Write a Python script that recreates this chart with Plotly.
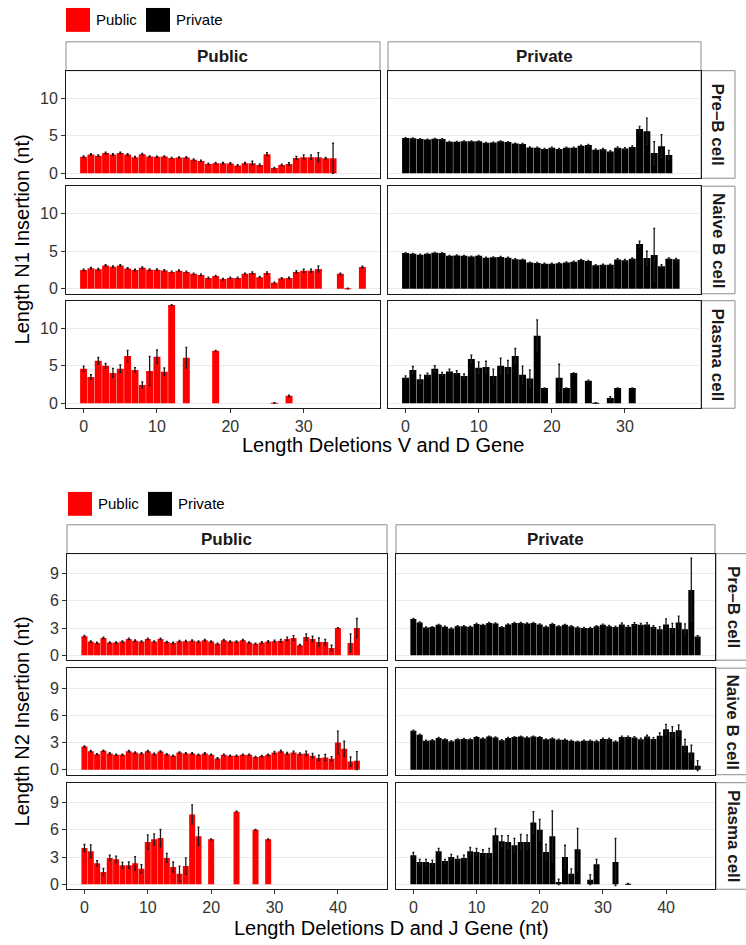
import plotly.graph_objects as go

W, H = 746, 945

# ---------------- N1 (V and D deletions) ----------------
n1_pub_preb_x = list(range(35))
n1_pub_preb_y = [2.2, 2.5, 2.35, 2.7, 2.5, 2.7, 2.5, 2.15, 2.55, 2.25, 2.2, 2.25, 2.05, 2.1, 2.1,
                 1.8, 1.65, 1.25, 1.35, 1.35, 1.3, 1.05, 1.35, 1.35, 1.1, 2.55, 0.7, 1.1, 1.25, 2.05,
                 2.15, 2.15, 2.15, 2.0, 2.0]
n1_pub_preb_e = [0.1, 0.1, 0.1, 0.1, 0.1, 0.1, 0.1, 0.1, 0.1, 0.08, 0.08, 0.08, 0.08, 0.08, 0.1,
                 0.1, 0.1, 0.1, 0.1, 0.1, 0.1, 0.1, 0.1, 0.25, 0.15, 0.2, 0.1, 0.1, 0.15, 0.2,
                 0.3, 0.3, 0.6, 0.1, 2.0]

n1_priv_preb_x = list(range(37))
n1_priv_preb_y = [4.7, 4.65, 4.55, 4.5, 4.6, 4.55, 4.2, 4.2, 4.25, 4.25, 4.25, 4.05, 4.1, 4.25, 4.15,
                  3.95, 3.9, 3.45, 3.4, 3.25, 3.4, 3.25, 3.4, 3.4, 3.65, 3.75, 3.15, 3.2, 2.9, 3.4,
                  3.3, 3.5, 5.9, 5.6, 2.7, 3.6, 2.45]
n1_priv_preb_e = [0.06, 0.06, 0.06, 0.06, 0.06, 0.06, 0.06, 0.06, 0.06, 0.06, 0.06, 0.06, 0.06, 0.06, 0.06,
                  0.07, 0.07, 0.07, 0.07, 0.07, 0.07, 0.07, 0.07, 0.08, 0.08, 0.1, 0.1, 0.1, 0.1, 0.12,
                  0.12, 0.15, 0.35, 1.75, 1.5, 1.55, 0.6]

n1_pub_naive_x = list(range(33)) + [35, 36, 38]
n1_pub_naive_y = [2.5, 2.75, 2.6, 3.1, 2.95, 3.1, 2.7, 2.5, 2.8, 2.55, 2.55, 2.45, 2.25, 2.4, 2.25,
                  2.0, 1.85, 1.45, 1.7, 1.3, 1.45, 1.45, 2.0, 2.1, 1.55, 2.1, 0.8, 1.4, 1.45, 2.25,
                  2.4, 2.4, 2.65, 2.0, 0.05, 2.9]
n1_pub_naive_e = [0.1, 0.1, 0.1, 0.1, 0.1, 0.1, 0.1, 0.1, 0.1, 0.1, 0.1, 0.1, 0.1, 0.1, 0.1,
                  0.1, 0.1, 0.1, 0.1, 0.1, 0.1, 0.1, 0.1, 0.15, 0.1, 0.15, 0.1, 0.1, 0.1, 0.15,
                  0.2, 0.2, 0.4, 0.1, 0.05, 0.1]

n1_priv_naive_x = list(range(38))
n1_priv_naive_y = [4.75, 4.65, 4.55, 4.65, 4.8, 4.75, 4.4, 4.45, 4.4, 4.3, 4.4, 4.15, 4.2, 4.25, 4.15,
                   3.95, 3.9, 3.5, 3.45, 3.35, 3.35, 3.4, 3.5, 3.6, 3.85, 3.7, 3.15, 3.2, 3.2, 3.9,
                   3.8, 4.0, 5.95, 4.1, 4.5, 3.0, 4.0, 3.95]
n1_priv_naive_e = [0.06, 0.06, 0.06, 0.06, 0.06, 0.06, 0.06, 0.06, 0.06, 0.06, 0.06, 0.06, 0.06, 0.06, 0.06,
                   0.06, 0.06, 0.06, 0.06, 0.06, 0.06, 0.07, 0.07, 0.07, 0.08, 0.08, 0.08, 0.08, 0.08, 0.1,
                   0.1, 0.1, 0.4, 0.9, 3.55, 0.2, 0.1, 0.1]

n1_pub_plasma_x = [0, 1, 2, 3, 4, 5, 6, 7, 8, 9, 10, 11, 12, 14, 18, 26, 28]
n1_pub_plasma_y = [4.6, 3.5, 5.65, 5.0, 4.05, 4.6, 6.3, 4.45, 2.45, 4.3, 6.2, 4.2, 13.1, 6.05, 7.0, 0.05, 1.0]
n1_pub_plasma_e = [0.35, 0.3, 0.45, 0.3, 0.6, 0.5, 0.75, 0.3, 0.4, 1.95, 0.9, 0.5, 0.05, 1.4, 0.05, 0.05, 0.1]

n1_priv_plasma_x = list(range(20)) + [21, 22, 23, 25, 26, 28, 29, 31]
n1_priv_plasma_y = [3.4, 4.45, 3.2, 3.8, 4.6, 3.9, 4.25, 4.05, 3.65, 5.9, 4.75, 4.85, 3.65, 5.0, 4.85,
                    6.3, 3.8, 3.3, 9.0, 2.05, 3.4, 2.05, 4.05, 3.0, 0.05, 0.7, 2.05, 2.05]
n1_priv_plasma_e = [0.25, 0.45, 0.55, 0.2, 0.4, 0.2, 0.3, 0.3, 0.25, 0.5, 0.75, 0.75, 0.9, 1.0, 0.85,
                    1.0, 1.15, 1.15, 2.1, 0.0, 1.8, 0.0, 0.0, 0.1, 0.05, 0.2, 0.0, 0.0]

# ---------------- N2 (D and J deletions) ----------------
n2_pub_preb_x = list(range(41)) + [42, 43]
n2_pub_preb_y = [2.1, 1.5, 1.35, 1.9, 1.4, 1.4, 1.5, 1.8, 1.6, 1.5, 1.8, 1.5, 1.8, 1.45, 1.35,
                 1.55, 1.55, 1.6, 1.5, 1.65, 1.5, 1.25, 1.65, 1.5, 1.5, 1.65, 1.4, 1.25, 1.4, 1.5,
                 1.55, 1.6, 1.8, 1.9, 1.1, 2.0, 1.8, 1.45, 1.45, 0.8, 3.0, 1.35, 3.0]
n2_pub_preb_e = [0.08, 0.08, 0.08, 0.08, 0.08, 0.08, 0.08, 0.08, 0.08, 0.08, 0.08, 0.08, 0.08, 0.08, 0.08,
                 0.08, 0.08, 0.08, 0.08, 0.08, 0.08, 0.08, 0.08, 0.08, 0.08, 0.08, 0.08, 0.08, 0.1, 0.1,
                 0.1, 0.15, 0.2, 0.25, 0.1, 0.35, 0.3, 0.45, 0.3, 0.3, 0.05, 1.0, 1.05]

n2_priv_preb_x = list(range(46))
n2_priv_preb_y = [4.0, 3.6, 3.05, 3.1, 3.35, 3.15, 2.95, 3.2, 3.2, 3.15, 3.45, 3.35, 3.55, 3.5, 3.1,
                  3.4, 3.55, 3.55, 3.5, 3.55, 3.4, 3.15, 3.45, 3.2, 3.35, 3.2, 3.05, 3.0, 3.0, 3.2,
                  3.35, 3.2, 3.1, 3.4, 3.15, 3.45, 3.35, 3.4, 3.1, 2.85, 3.4, 3.0, 3.6, 2.85, 7.2, 2.05]
n2_priv_preb_e = [0.06, 0.06, 0.06, 0.06, 0.06, 0.06, 0.06, 0.06, 0.06, 0.06, 0.06, 0.06, 0.06, 0.06, 0.06,
                  0.06, 0.06, 0.06, 0.06, 0.06, 0.06, 0.06, 0.06, 0.06, 0.06, 0.06, 0.06, 0.06, 0.07, 0.07,
                  0.08, 0.08, 0.1, 0.15, 0.1, 0.15, 0.15, 0.2, 0.15, 0.3, 0.6, 0.5, 0.7, 0.6, 3.5, 0.1]

n2_pub_naive_x = list(range(44))
n2_pub_naive_y = [2.55, 2.05, 1.7, 2.1, 1.8, 1.65, 1.65, 2.05, 1.9, 1.8, 2.05, 1.75, 2.0, 1.7, 1.55,
                  1.9, 1.8, 1.8, 1.65, 1.8, 1.65, 1.25, 1.65, 1.55, 1.55, 1.65, 1.65, 1.4, 1.5, 1.65,
                  1.9, 2.05, 1.8, 1.9, 1.75, 1.8, 1.55, 1.3, 1.35, 1.2, 3.0, 2.3, 0.9, 1.0]
n2_pub_naive_e = [0.07, 0.07, 0.07, 0.07, 0.07, 0.07, 0.07, 0.07, 0.07, 0.07, 0.07, 0.07, 0.07, 0.07, 0.07,
                  0.07, 0.07, 0.07, 0.07, 0.07, 0.07, 0.07, 0.07, 0.07, 0.07, 0.07, 0.07, 0.07, 0.08, 0.08,
                  0.12, 0.1, 0.1, 0.15, 0.1, 0.25, 0.25, 0.3, 0.35, 0.25, 1.25, 0.85, 0.5, 1.0]

n2_priv_naive_x = list(range(46))
n2_priv_naive_y = [4.3, 3.85, 3.2, 3.25, 3.5, 3.35, 3.15, 3.35, 3.4, 3.35, 3.6, 3.45, 3.65, 3.55, 3.25,
                   3.5, 3.6, 3.65, 3.55, 3.65, 3.6, 3.35, 3.45, 3.3, 3.3, 3.2, 3.1, 3.2, 3.2, 3.15,
                   3.4, 3.4, 3.1, 3.6, 3.6, 3.55, 3.35, 3.65, 3.4, 3.75, 4.45, 4.15, 4.35, 2.65, 1.9, 0.45]
n2_priv_naive_e = [0.06, 0.06, 0.06, 0.06, 0.06, 0.06, 0.06, 0.06, 0.06, 0.06, 0.06, 0.06, 0.06, 0.06, 0.06,
                   0.06, 0.06, 0.06, 0.06, 0.06, 0.06, 0.06, 0.06, 0.06, 0.06, 0.06, 0.06, 0.06, 0.06, 0.07,
                   0.07, 0.08, 0.08, 0.1, 0.1, 0.1, 0.12, 0.15, 0.15, 0.3, 0.55, 0.6, 0.6, 0.7, 0.8, 0.55]

n2_pub_plasma_x = list(range(19)) + [20, 24, 27, 29]
n2_pub_plasma_y = [4.0, 3.65, 2.3, 1.35, 2.9, 2.75, 2.1, 2.1, 2.3, 1.7, 4.65, 4.95, 5.1, 2.9, 1.9,
                   1.15, 2.0, 7.7, 5.3, 4.95, 8.0, 6.0, 4.95]
n2_pub_plasma_e = [0.4, 0.7, 0.3, 0.4, 0.3, 0.35, 0.3, 0.35, 0.75, 0.45, 0.8, 0.6, 0.95, 0.5, 0.55,
                   0.85, 0.9, 1.05, 1.0, 0.05, 0.05, 0.05, 0.05]

n2_priv_plasma_x = list(range(27)) + [28, 29, 32, 34]
n2_priv_plasma_y = [3.2, 2.45, 2.45, 2.35, 3.65, 2.55, 3.0, 2.8, 2.9, 3.65, 3.55, 3.45, 3.45, 5.4, 4.75,
                    4.65, 4.3, 4.65, 4.65, 6.8, 6.0, 3.55, 5.3, 0.25, 3.0, 1.15, 3.85, 0.5, 2.2, 2.45, 0.05]
n2_priv_plasma_e = [0.3, 0.3, 0.3, 0.3, 0.3, 0.2, 0.3, 0.3, 0.3, 0.4, 0.4, 0.35, 0.5, 0.75, 0.6,
                    0.7, 0.75, 0.85, 0.8, 1.2, 1.15, 0.85, 2.8, 0.3, 1.3, 0.55, 2.3, 0.55, 0.55, 2.6, 0.05]

row_labels = ["Pre\u2013B cell", "Naive B cell", "Plasma cell"]
col_labels = ["Public", "Private"]
colors = {"Public": "#FF0000", "Private": "#000000"}

n1_ticks = [0, 5, 10]
n2_ticks = [0, 3, 6, 9]
n1_xticks = [0, 10, 20, 30]
n2_xticks = [0, 10, 20, 30, 40]

# ---------------- layout geometry (pixels) ----------------
blocks = [
    dict(data=[[(n1_pub_preb_x, n1_pub_preb_y, n1_pub_preb_e), (n1_priv_preb_x, n1_priv_preb_y, n1_priv_preb_e)],
               [(n1_pub_naive_x, n1_pub_naive_y, n1_pub_naive_e), (n1_priv_naive_x, n1_priv_naive_y, n1_priv_naive_e)],
               [(n1_pub_plasma_x, n1_pub_plasma_y, n1_pub_plasma_e), (n1_priv_plasma_x, n1_priv_plasma_y, n1_priv_plasma_e)]],
         cols=[(66, 380), (388, 701)], rows=[(71, 179), (187, 295), (302, 410)],
         strip_y=(42, 71), rstrip_x=(701, 735), xr=[-2.4, 40.4], yr=[-0.66, 13.66],
         yt=n1_ticks, xt=n1_xticks, ytitle="Length N1 Insertion (nt)",
         xtitle="Length Deletions V and D Gene", xtitle_y=447, legend_y=(8, 32), leg_x=66),
    dict(data=[[(n2_pub_preb_x, n2_pub_preb_y, n2_pub_preb_e), (n2_priv_preb_x, n2_priv_preb_y, n2_priv_preb_e)],
               [(n2_pub_naive_x, n2_pub_naive_y, n2_pub_naive_e), (n2_priv_naive_x, n2_priv_naive_y, n2_priv_naive_e)],
               [(n2_pub_plasma_x, n2_pub_plasma_y, n2_pub_plasma_e), (n2_priv_plasma_x, n2_priv_plasma_y, n2_priv_plasma_e)]],
         cols=[(67, 387), (396, 715)], rows=[(556, 663), (671, 778), (786, 893)],
         strip_y=(527, 556), rstrip_x=(716, 750), xr=[-2.75, 47.75], yr=[-0.55, 11.2],
         yt=n2_ticks, xt=n2_xticks, ytitle="Length N2 Insertion (nt)",
         xtitle="Length Deletions D and J Gene (nt)", xtitle_y=932, legend_y=(494, 518), leg_x=68),
]

FONT = "Liberation Sans, Arial, Helvetica, sans-serif"
fig = go.Figure()
layout = {}
shapes = []
annotations = []

def fx(p):
    return p / W

def fy(p):
    return 1 - p / H

k = 0
for b in blocks:
    for r in range(3):
        for c in range(2):
            k += 1
            xs, ys, es = b["data"][r][c]
            name = col_labels[c]
            sfx = "" if k == 1 else str(k)
            fig.add_trace(go.Bar(
                x=xs, y=ys, width=0.95, marker=dict(color=colors[name], line=dict(width=0)),
                error_y=dict(type="data", array=es, visible=True, color="#1a1a1a",
                             thickness=1.3, width=1),
                xaxis="x" + sfx, yaxis="y" + sfx, showlegend=False, name=name))
            x0, x1 = b["cols"][c]
            y0, y1 = b["rows"][r]
            bottom = r == 2
            left = c == 0
            layout["xaxis" + sfx] = dict(
                domain=[fx(x0), fx(x1)], range=b["xr"], anchor="y" + sfx,
                tickvals=b["xt"], showticklabels=bottom, ticks="outside" if bottom else "",
                ticklen=4, tickcolor="#333333", tickwidth=1,
                tickfont=dict(size=16, color="#333333", family=FONT),
                showline=True, mirror=True, linecolor="#1a1a1a", linewidth=1,
                showgrid=False, zeroline=False, fixedrange=True)
            layout["yaxis" + sfx] = dict(
                domain=[fy(y1), fy(y0)], range=b["yr"], anchor="x" + sfx,
                tickvals=b["yt"], showticklabels=left, ticks="outside" if left else "",
                ticklen=4, tickcolor="#333333", tickwidth=1,
                tickfont=dict(size=16, color="#333333", family=FONT),
                showline=True, mirror=True, linecolor="#1a1a1a", linewidth=1,
                showgrid=True, gridcolor="#EBEBEB", gridwidth=1.2, zeroline=False, fixedrange=True)
            # top strips
            if r == 0:
                sy0, sy1 = b["strip_y"]
                shapes.append(dict(type="rect", xref="paper", yref="paper",
                                   x0=fx(x0), x1=fx(x1), y0=fy(sy1), y1=fy(sy0),
                                   fillcolor="#FFFFFF", line=dict(color="#8C8C8C", width=1), layer="below"))
                annotations.append(dict(text="<b>%s</b>" % name, xref="paper", yref="paper",
                                        x=fx((x0 + x1) / 2), y=fy((sy0 + sy1) / 2),
                                        showarrow=False, font=dict(size=17, color="#1a1a1a", family=FONT),
                                        xanchor="center", yanchor="middle"))
            # right strips
            if c == 1:
                rx0, rx1 = b["rstrip_x"]
                shapes.append(dict(type="rect", xref="paper", yref="paper",
                                   x0=fx(rx0), x1=fx(rx1), y0=fy(y1), y1=fy(y0),
                                   fillcolor="#FFFFFF", line=dict(color="#8C8C8C", width=1), layer="below"))
                annotations.append(dict(text="<b>%s</b>" % row_labels[r], xref="paper", yref="paper",
                                        x=fx((rx0 + rx1) / 2), y=fy((y0 + y1) / 2), textangle=90,
                                        showarrow=False, font=dict(size=17, color="#1a1a1a", family=FONT),
                                        xanchor="center", yanchor="middle"))
    # axis titles
    annotations.append(dict(text=b["ytitle"], xref="paper", yref="paper",
                            x=fx(22), y=fy((b["rows"][0][0] + b["rows"][2][1]) / 2), textangle=-90,
                            showarrow=False, font=dict(size=20, color="#000000", family=FONT),
                            xanchor="center", yanchor="middle"))
    annotations.append(dict(text=b["xtitle"], xref="paper", yref="paper",
                            x=fx((b["cols"][0][0] + b["cols"][1][1]) / 2), y=fy(b["xtitle_y"]),
                            showarrow=False, font=dict(size=20, color="#000000", family=FONT),
                            xanchor="center", yanchor="middle"))
    # legend (keys + labels)
    ly0, ly1 = b["legend_y"]
    lx = b["leg_x"]
    key_positions = [(lx, "Public"), (lx + 80, "Private")]
    for kx, lab in key_positions:
        shapes.append(dict(type="rect", xref="paper", yref="paper",
                           x0=fx(kx), x1=fx(kx + 24), y0=fy(ly1), y1=fy(ly0),
                           fillcolor=colors[lab], line=dict(width=0)))
        annotations.append(dict(text=lab, xref="paper", yref="paper",
                                x=fx(kx + 28), y=fy((ly0 + ly1) / 2), showarrow=False,
                                font=dict(size=15, color="#000000", family=FONT),
                                xanchor="left", yanchor="middle"))

fig.update_layout(**layout)
fig.update_layout(
    width=W, height=H, margin=dict(l=0, r=0, t=0, b=0),
    paper_bgcolor="white", plot_bgcolor="white",
    shapes=shapes, annotations=annotations, showlegend=False,
    barmode="overlay", font=dict(family=FONT),
)
fig.write_html("out.html")
